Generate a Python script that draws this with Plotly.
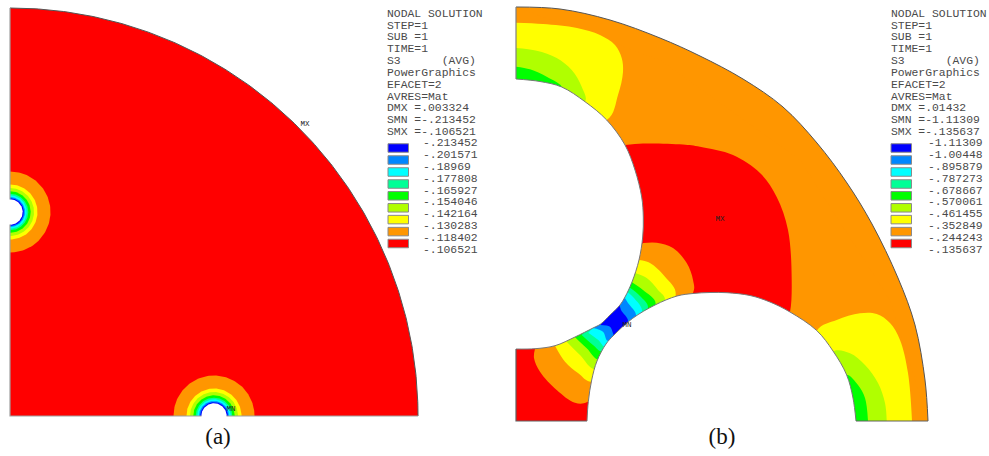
import numpy as np
import plotly.graph_objects as go

BLUE, AZURE, CYAN, TEAL, GREEN, LIME, YELLOW, ORANGE, RED = (
    "#0000ff", "#0087ff", "#00ffff", "#00ff96", "#00ff00",
    "#b0ff00", "#ffff00", "#ff9600", "#ff0000")
LEVEL_COLORS = [BLUE, AZURE, CYAN, TEAL, GREEN, LIME, YELLOW, ORANGE, RED]

# panel (a) header and legend
HEADER_A = ["NODAL SOLUTION", "STEP=1", "SUB =1", "TIME=1", "S3\u00a0\u00a0\u00a0\u00a0\u00a0\u00a0(AVG)",
            "PowerGraphics", "EFACET=2", "AVRES=Mat", "DMX =.003324", "SMN =-.213452", "SMX =-.106521"]
LEVELS_A = ["-.213452", "-.201571", "-.18969", "-.177808", "-.165927",
            "-.154046", "-.142164", "-.130283", "-.118402", "-.106521"]
HEADER_B = ["NODAL SOLUTION", "STEP=1", "SUB =1", "TIME=1", "S3\u00a0\u00a0\u00a0\u00a0\u00a0\u00a0(AVG)",
            "PowerGraphics", "EFACET=2", "AVRES=Mat", "DMX =.01432", "SMN =-1.11309", "SMX =-.135637"]
LEVELS_B = ["-1.11309", "-1.00448", "-.895879", "-.787273", "-.678667",
            "-.570061", "-.461455", "-.352849", "-.244243", "-.135637"]

# panel (a) geometry: band radii, outermost to innermost
A_PLATE_RADIUS = 408
A_BAND_RADII = [40.5, 27.5, 24, 20.7, 18.3, 16.7, 15, 13.8]
A_BAND_COLORS = [ORANGE, YELLOW, LIME, GREEN, TEAL, CYAN, AZURE, BLUE]
A_HOLE_RADIUS = 12.7

# panel (b) geometry
B_OUTER_ARC = [(516, 7), (560, 9), (610, 20), (660, 38), (700, 56), (743, 79), (783, 107), (817, 143),
               (847, 183), (872, 224), (898, 278), (915, 325), (925, 380), (928, 421)]
B_OUTER_BODY = [(516, 7), (660, 60), (800, 160), (890, 300), (928, 421), (516, 421)]
B_HOLE_L = [(516, 79), (540, 81.5), (561.7, 87), (585, 101.7), (606.7, 120), (625, 145), (635, 170),
            (641.7, 197), (643.3, 217), (642.7, 237), (639, 260), (632, 282), (625, 297), (620, 305),
            (610, 315), (600.7, 324), (593, 328), (575, 337), (555, 345.7), (535, 348.7), (516, 349)]
B_HOLE_B = [(587, 421), (588.3, 401.7), (591.7, 380), (597, 361), (606, 344), (614, 335), (632.7, 318.3),
            (655, 305), (677, 296), (693, 293.5), (710, 292.5), (727, 292.7), (750, 295.5), (770, 302),
            (790, 312), (816.7, 330.5), (833, 351), (846.7, 375), (853, 398), (856, 421)]
B_CORNER = [(516, 349), (516, 421), (587, 421), (600, 340)]
B_CENTER = [(625, 145), (643, 143.5), (683, 144.5), (700, 146.7), (733, 155), (760, 173), (776.7, 197),
            (788, 230), (791.7, 280), (790, 312), (785, 325), (700, 335), (620, 260)]

B_TL_YELLOW = [(516, 22.7), (543, 24), (577, 28), (600, 35), (615, 45), (621.7, 58), (623, 72), (618, 95),
               (606.7, 120), (516, 120)]
B_TL_LIME = [(516, 48), (536.7, 50.7), (556.7, 58), (571.7, 70), (581.7, 86.7), (585, 101.7), (516, 110)]
B_TL_GREEN = [(516, 66.7), (530, 69.3), (546.7, 76.7), (561.7, 87.3), (516, 100)]

B_BR_YELLOW = [(912, 421), (908, 373), (900, 340), (890, 323), (876.7, 314), (860, 313.3), (836.7, 320),
               (816.7, 330.7), (800, 421)]
B_BR_LIME = [(886.7, 421), (885, 403), (878, 383), (865, 365), (850, 353.3), (833, 351.7), (820, 421)]
B_BR_GREEN = [(868, 421), (865, 398), (858, 385), (846.7, 375), (835, 421)]

# neck contours: (lower curve from left hole to bottom hole, upper curve from left hole to bottom hole)
NECK_ORANGE = ([(535, 348.7), (534, 358), (540, 371.7), (556.7, 390), (575, 402.7), (587.7, 401.7)],
               [(643, 243), (656.7, 242.7), (673, 248), (686.7, 263), (693, 280), (693, 293)])
NECK_YELLOW = ([(555, 345.7), (565, 361.7), (578.3, 373.3), (592.3, 381.7)],
               [(639.3, 260), (650, 263), (665, 276.7), (675.7, 295)])
NECK_LIME = ([(566.7, 341.7), (580, 355), (596, 369.3)],
             [(635, 273), (646.7, 278), (658, 290), (665, 300)])
NECK_GREEN = ([(575, 337.3), (586.7, 348.3), (600, 360)],
              [(631, 281.7), (643, 290), (655.7, 304)])
NECK_TEAL = ([(581.7, 335), (593, 345), (603, 351.7)],
             [(629, 287), (640, 296), (648, 308)])
NECK_CYAN = ([(588.3, 332.7), (598.3, 340), (605.7, 347)],
             [(627, 291.7), (634, 298), (642, 312)])
NECK_AZURE = ([(593, 328), (603, 331.7), (608, 341)],
              [(624.3, 297), (628, 303), (636, 316)])
NECK_BLUE = ([(600, 325), (610, 326.7), (615, 336)],
             [(619.3, 303.3), (621, 310), (628, 321)])


def arc(cx, cy, radius, start_deg, end_deg, n=90):
    t = np.radians(np.linspace(start_deg, end_deg, n))
    return [(cx + radius * np.cos(a), cy - radius * np.sin(a)) for a in t]


fig = go.Figure()


def poly(points, color, shape="spline"):
    xs, ys = zip(*points)
    fig.add_trace(go.Scatter(x=xs, y=ys, mode="lines", fill="toself", fillcolor=color,
                             line=dict(width=0, color=color, shape=shape), hoverinfo="skip"))


def outline(points, color="#6e6e6e", width=1, shape="spline"):
    xs, ys = zip(*points)
    fig.add_trace(go.Scatter(x=xs, y=ys, mode="lines", line=dict(width=width, color=color, shape=shape),
                             hoverinfo="skip"))


# panel (a)
plate_arc = arc(10, 416, A_PLATE_RADIUS, 90, 0, 180)
poly(plate_arc + [(10, 416)], RED, "linear")
for r, c in zip(A_BAND_RADII, A_BAND_COLORS):
    poly(arc(10, 212, r, 90, -90), c, "linear")
    poly(arc(214, 416, r, 180, 0), c, "linear")
poly(arc(10, 212, A_HOLE_RADIUS, 90, -90), "#ffffff", "linear")
poly(arc(214, 416, A_HOLE_RADIUS, 180, 0), "#ffffff", "linear")
outline(plate_arc, "#555555", 1, "linear")
outline([(10, 8), (10, 199.5)], "#a0a0a0", 1.2, "linear")
outline([(10, 224.5), (10, 416), (201.5, 416)], "#a0a0a0", 1.2, "linear")
outline([(226.5, 416), (418, 416)], "#a0a0a0", 1.2, "linear")

# panel (b)
poly(B_OUTER_ARC, ORANGE)
poly(B_OUTER_BODY, ORANGE, "linear")
poly(B_CORNER, RED, "linear")
poly(B_CENTER, RED)
poly(B_TL_YELLOW, YELLOW)
poly(B_TL_LIME, LIME)
poly(B_TL_GREEN, GREEN)
poly(B_BR_YELLOW, YELLOW)
poly(B_BR_LIME, LIME)
poly(B_BR_GREEN, GREEN)
for (lower, upper), c in zip(
        [NECK_ORANGE, NECK_YELLOW, NECK_LIME, NECK_GREEN, NECK_TEAL, NECK_CYAN, NECK_AZURE, NECK_BLUE],
        [ORANGE, YELLOW, LIME, GREEN, TEAL, CYAN, AZURE, BLUE]):
    poly(upper + lower[::-1], c)
poly(B_HOLE_L, "#ffffff")
poly(B_HOLE_B, "#ffffff")
outline(B_OUTER_ARC, "#555555", 1)
outline([(516, 7), (516, 79)], "#808080", 1.2, "linear")
outline(B_HOLE_L, "#777777", 1)
outline([(516, 349), (516, 421), (587, 421)], "#606060", 1.2, "linear")
outline(B_HOLE_B, "#777777", 1)
outline([(856, 421), (928, 421)], "#606060", 1.2, "linear")

# legend swatches
SWATCH_Y = [148, 160, 172, 184, 195.8, 207.8, 219.6, 231.6, 243.5]
for left, width in [(388, 20.5), (891, 20.5)]:
    fig.add_trace(go.Bar(y=SWATCH_Y, x=[width] * 9, base=[left] * 9, orientation="h", width=8.5,
                         marker=dict(color=LEVEL_COLORS, line=dict(color="#8a8a8a", width=1)),
                         hoverinfo="skip"))

TEXT_FONT = dict(family="Liberation Mono", size=11.4, color="#4a4a4a")
HEADER_Y = [14, 25.7, 37.5, 49.5, 61.3, 73, 85, 96.7, 108.3, 120, 131.7]
LEVEL_Y = [143.5, 155.3, 167, 179, 190.7, 202.5, 214.3, 226.3, 238, 250]


def texts(x, ys, labels, font=TEXT_FONT):
    fig.add_trace(go.Scatter(x=[x] * len(ys), y=ys, text=labels, mode="text", textposition="middle right",
                             textfont=font, hoverinfo="skip", cliponaxis=False))


texts(387, HEADER_Y, HEADER_A)
texts(423, LEVEL_Y, LEVELS_A)
texts(891, HEADER_Y, HEADER_B)
texts(928, LEVEL_Y, LEVELS_B)

SMALL = dict(family="Liberation Mono", size=7.5, color="#222222")
fig.add_trace(go.Scatter(x=[305, 231, 720, 627], y=[124, 409, 219, 325], text=["MX", "MN", "MX", "MN"],
                         mode="text", textposition="middle center", textfont=SMALL, hoverinfo="skip"))
CAPTION = dict(family="Liberation Serif", size=23, color="#111111")
fig.add_trace(go.Scatter(x=[218, 722], y=[438, 438], text=["(a)", "(b)"], mode="text",
                         textposition="middle center", textfont=CAPTION, hoverinfo="skip"))

fig.update_layout(width=989, height=456, margin=dict(l=0, r=0, t=0, b=0), showlegend=False,
                  paper_bgcolor="white", plot_bgcolor="white", barmode="overlay",
                  xaxis=dict(range=[0, 989], visible=False, fixedrange=True),
                  yaxis=dict(range=[456, 0], visible=False, fixedrange=True))
fig.write_html("out.html", config=dict(displayModeBar=False),
               post_script="document.body.style.margin='0';document.documentElement.style.overflow='hidden';")
